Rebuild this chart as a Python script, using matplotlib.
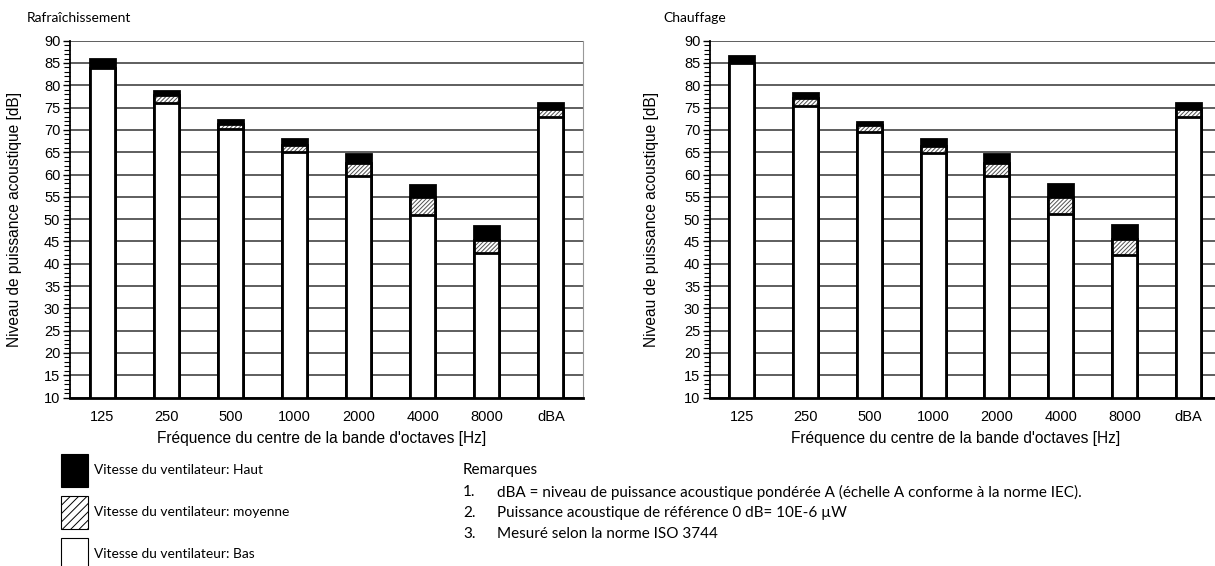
import matplotlib.pyplot as plt
import numpy as np
from matplotlib.patches import Patch
from matplotlib.ticker import MultipleLocator

# bandes d'octaves et niveaux (dB)
bandes = ['125', '250', '500', '1000', '2000', '4000', '8000', 'dBA']

froid_haut = [85.9, 78.8, 72.2, 67.9, 64.6, 57.7, 48.4, 76.0]
froid_moy = [83.8, 77.8, 71.3, 66.6, 62.6, 55.0, 45.3, 74.6]
froid_bas = [83.8, 76.0, 70.2, 65.0, 59.7, 51.0, 42.4, 72.9]

chaud_haut = [86.5, 78.3, 71.8, 67.9, 64.5, 57.8, 48.6, 76.0]
chaud_moy = [85.0, 77.1, 71.0, 66.5, 62.5, 55.0, 45.5, 74.7]
chaud_bas = [85.0, 75.4, 69.6, 64.8, 59.7, 51.1, 42.0, 72.8]

W, H = 1215, 566
base = 10

plt.rcParams['hatch.linewidth'] = 0.7
tick_font = 'Liberation Sans'
txt_font = 'Lato'

fig = plt.figure(figsize=(W / 100, H / 100), dpi=100)


def px(x0, y0, x1, y1):
    return [x0 / W, 1 - y1 / H, (x1 - x0) / W, (y1 - y0) / H]


def panneau(ax, haut, moy, bas):
    x = np.arange(len(bandes))
    w = 0.39
    ax.bar(x, np.array(haut) - base, bottom=base, width=w, color='black',
           edgecolor='black', linewidth=2, zorder=3)
    ax.bar(x, np.array(moy) - base, bottom=base, width=w, color='white',
           edgecolor='#505050', hatch='////////', linewidth=0, zorder=4)
    ax.bar(x, np.array(moy) - base, bottom=base, width=w, fill=False,
           edgecolor='black', linewidth=2, zorder=5)
    ax.bar(x, np.array(bas) - base, bottom=base, width=w, color='white',
           edgecolor='black', linewidth=2, zorder=6)

    ax.set_xlim(-0.5, len(bandes) - 0.5)
    ax.set_ylim(10, 90)
    ax.set_xticks(x)
    ax.set_xticklabels(bandes, family=tick_font, fontsize=10.5)
    ax.yaxis.set_major_locator(MultipleLocator(5))
    ax.yaxis.set_minor_locator(MultipleLocator(1))
    for lab in ax.get_yticklabels():
        lab.set_family(tick_font)
        lab.set_fontsize(10.5)
    ax.tick_params(axis='x', length=0, pad=9)
    ax.tick_params(axis='y', which='major', length=5, width=1, pad=2)
    ax.tick_params(axis='y', which='minor', length=4, width=0.8)
    ax.grid(axis='y', color='#333333', linewidth=1.1, zorder=1)
    ax.set_axisbelow(True)
    ax.spines['top'].set_visible(False)
    ax.spines['right'].set_color('#999999')
    ax.spines['left'].set_linewidth(1.3)
    ax.spines['bottom'].set_linewidth(2)
    ax.set_ylabel('Niveau de puissance acoustique [dB]', family=tick_font,
                  fontsize=11.2)
    ax.set_xlabel("Fréquence du centre de la bande d'octaves [Hz]",
                  family=tick_font, fontsize=11.2)


ax1 = fig.add_axes(px(70, 40.7, 583, 397.5))
panneau(ax1, froid_haut, froid_moy, froid_bas)
ax1.yaxis.set_label_coords(-48 / 513, 0.5)
ax1.xaxis.set_label_coords((322 - 70) / 513, -0.093)

ax2 = fig.add_axes(px(710, 40.7, 1220, 397.5))
panneau(ax2, chaud_haut, chaud_moy, chaud_bas)
ax2.yaxis.set_label_coords(-51 / 510, 0.5)
ax2.xaxis.set_label_coords((956 - 710) / 510, -0.093)

fig.text(27 / W, 1 - 18 / H, 'Rafraîchissement', family=txt_font,
         fontsize=10, va='center')
fig.text(663 / W, 1 - 18 / H, 'Chauffage', family=txt_font,
         fontsize=10, va='center')

# légende
poignees = [Patch(facecolor='black', edgecolor='black', linewidth=0.8),
            Patch(facecolor='white', edgecolor='black', hatch='////',
                  linewidth=0.8),
            Patch(facecolor='white', edgecolor='black', linewidth=0.8)]
noms = ['Vitesse du ventilateur: Haut', 'Vitesse du ventilateur: moyenne',
        'Vitesse du ventilateur: Bas']
fig.legend(poignees, noms, loc='upper left',
           bbox_to_anchor=(61 / W, 1 - 454 / H), frameon=False,
           borderpad=0, borderaxespad=0, handlelength=1.95,
           handleheight=3.3, labelspacing=0.65, handletextpad=0.45,
           prop={'family': txt_font, 'size': 9.9})

# remarques
remarques = ['dBA = niveau de puissance acoustique pondérée A (échelle A '
             'conforme à la norme IEC).',
             'Puissance acoustique de référence 0 dB= 10E-6 µW',
             'Mesuré selon la norme ISO 3744']
fig.text(463 / W, 1 - 470 / H, 'Remarques', family=txt_font, fontsize=11,
         va='center')
for i, r in enumerate(remarques):
    y = 1 - (492 + 21 * i) / H
    fig.text(463 / W, y, f'{i + 1}.', family=txt_font, fontsize=11,
             va='center')
    fig.text(497 / W, y, r, family=txt_font, fontsize=11, va='center')

fig.savefig('out.png', dpi=100)
